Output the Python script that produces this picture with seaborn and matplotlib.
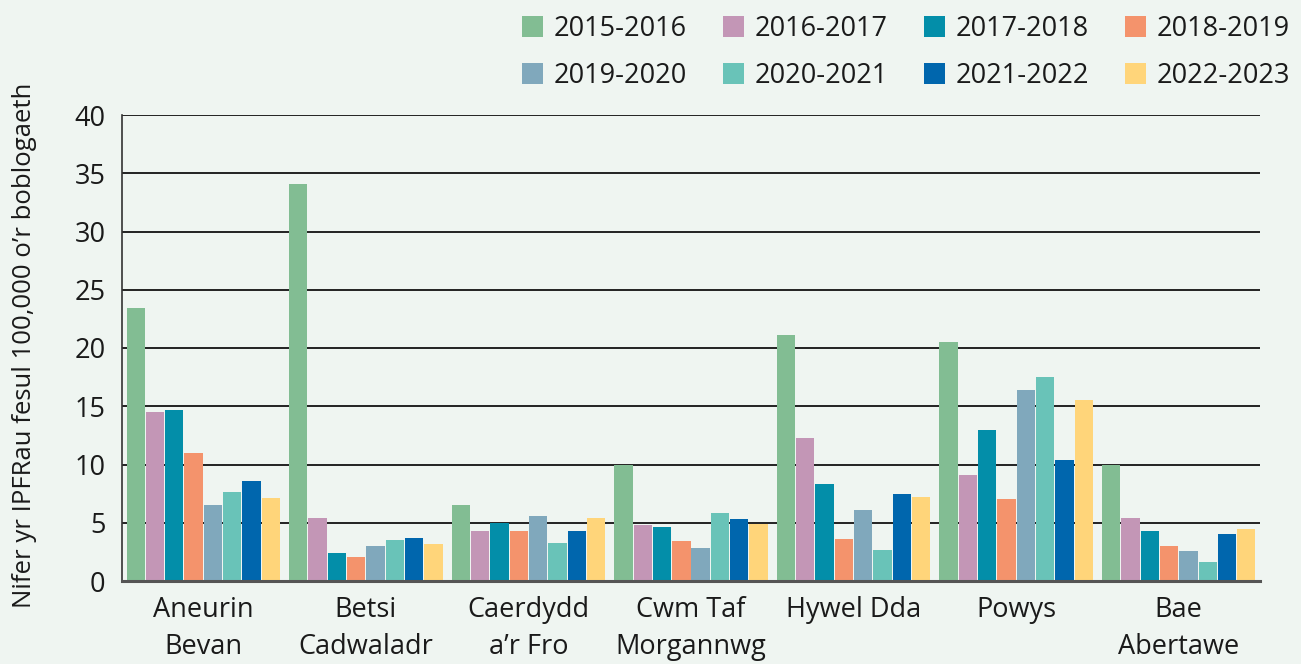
import matplotlib
matplotlib.use("Agg")
import matplotlib.pyplot as plt
from matplotlib import font_manager
from matplotlib.ticker import FixedLocator
import seaborn as sns
import pandas as pd

# byrddau iechyd
boards = ["Aneurin\nBevan", "Betsi\nCadwaladr", "Caerdydd\na\u2019r Fro", "Cwm Taf\nMorgannwg",
          "Hywel Dda", "Powys", "Bae\nAbertawe"]
years = ["2015-2016", "2016-2017", "2017-2018", "2018-2019",
         "2019-2020", "2020-2021", "2021-2022", "2022-2023"]

# one list per year, values per board
v2015 = [23.4, 34.1, 6.5, 10.0, 21.1, 20.5, 10.0]
v2016 = [14.5, 5.4, 4.3, 4.8, 12.3, 9.1, 5.4]
v2017 = [14.7, 2.4, 5.0, 4.6, 8.3, 13.0, 4.3]
v2018 = [11.0, 2.1, 4.3, 3.4, 3.6, 7.0, 3.0]
v2019 = [6.5, 3.0, 5.6, 2.8, 6.1, 16.4, 2.6]
v2020 = [7.6, 3.5, 3.3, 5.8, 2.7, 17.5, 1.6]
v2021 = [8.6, 3.7, 4.3, 5.3, 7.5, 10.4, 4.0]
v2022 = [7.1, 3.2, 5.4, 4.9, 7.2, 15.5, 4.5]

colors = ["#82bd93", "#c396b6", "#038ea9", "#f4936c",
          "#80a8bc", "#69c3b8", "#0066ad", "#ffd57a"]
bg = "#eff5f1"

rows = []
for yr, vals in zip(years, [v2015, v2016, v2017, v2018, v2019, v2020, v2021, v2022]):
    for b, v in zip(boards, vals):
        rows.append({"board": b, "year": yr, "value": v})
df = pd.DataFrame(rows)

sns.set_style("white")
available = {f.name for f in font_manager.fontManager.ttflist}
main_font = "Open Sans" if "Open Sans" in available else "DejaVu Sans"
plt.rcParams["font.family"] = [main_font, "DejaVu Sans"]

fig = plt.figure(figsize=(13.01, 6.64), dpi=100, facecolor=bg)
ax = fig.add_axes([122 / 1301, 1 - 581 / 664, 1138 / 1301, 466 / 664])
ax.set_facecolor(bg)

sns.barplot(data=df, x="board", y="value", hue="year", hue_order=years,
            palette=colors, saturation=1, width=0.95, gap=0.05, linewidth=0, ax=ax)

ax.set_ylim(0, 40)
ax.set_xlim(-0.5, 6.5)
ax.set_yticks(range(0, 41, 5))
ax.set_axisbelow(True)
ax.grid(axis="y", color="#222222", linewidth=1.4)
ax.grid(axis="x", visible=False)

for s in ["top", "right"]:
    ax.spines[s].set_visible(False)
ax.spines["left"].set_color("#333333")
ax.spines["left"].set_linewidth(1.2)
ax.spines["bottom"].set_color("#555555")
ax.spines["bottom"].set_linewidth(2.2)

ax.tick_params(axis="y", length=0, pad=12, labelsize=19.5, labelcolor="#1a1a1a")
ax.tick_params(axis="x", which="major", length=0, pad=11)
ax.xaxis.set_minor_locator(FixedLocator([0.5, 1.5, 2.5, 3.5, 4.5, 5.5]))
ax.tick_params(axis="x", which="minor", direction="inout", length=29, width=1.1, color="#222222")

ax.set_xticks(range(len(boards)))
ax.set_xticklabels(boards, fontsize=19.5, linespacing=1.42, color="#1a1a1a")
ax.set_xlabel("")

ax.set_ylabel("Nifer yr IPFRau fesul 100,000 o\u2019r boblogaeth", fontsize=18.5, color="#1a1a1a")
ax.yaxis.set_label_coords(-0.075, 0.506)

# legend filled row by row, like the original
handles, labels = ax.get_legend_handles_labels()
order = [0, 4, 1, 5, 2, 6, 3, 7]
ax.legend([handles[i] for i in order], [labels[i] for i in order], ncol=4, frameon=False,
          fontsize=19.5, loc="upper right", bbox_to_anchor=(1290 / 1301, 1 - 15 / 664),
          bbox_transform=fig.transFigure, borderpad=0, borderaxespad=0,
          handlelength=0.78, handleheight=0.78, handletextpad=0.37,
          columnspacing=1.35, labelspacing=0.7, labelcolor="#1a1a1a")

fig.savefig("out.png", dpi=100, facecolor=bg)
